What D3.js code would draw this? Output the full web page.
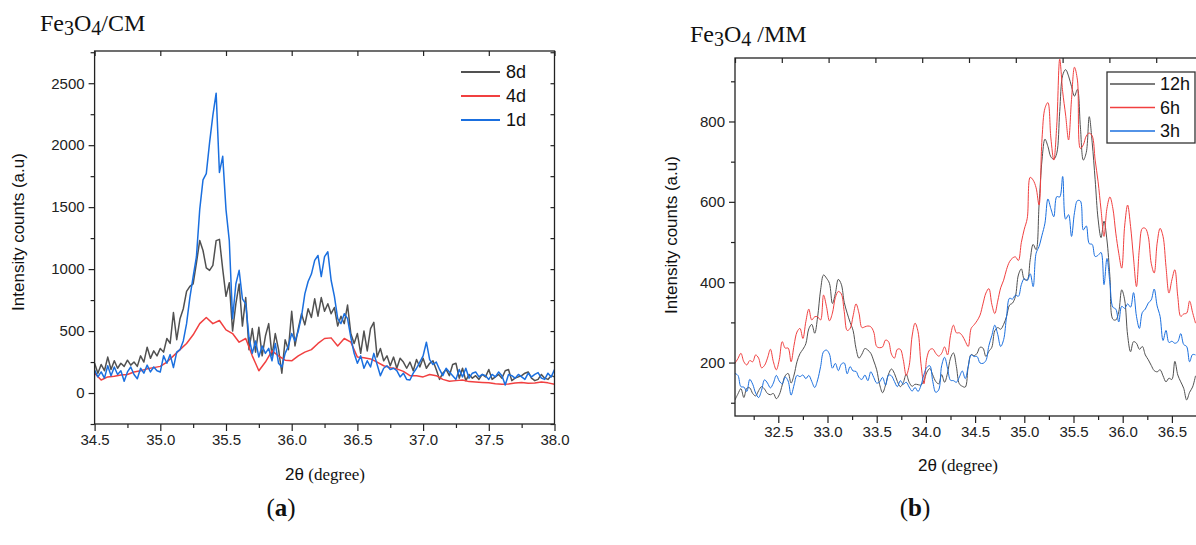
<!DOCTYPE html>
<html>
<head>
<meta charset="utf-8">
<script src="https://d3js.org/d3.v7.min.js"></script>
<style>
  body { margin: 0; background: #fff; }
</style>
</head>
<body>
<svg id="chart" width="1196" height="545"></svg>
<script>
// (a) Fe3O4/CM, one value every 0.025 deg from 34.5
var cmStart = 34.5, cmStep = 0.025;
var cm8d = [
  240,160,230,180,290,190,260,200,240,215,
  265,225,250,215,300,250,370,280,340,300,
  360,330,440,400,650,430,600,680,820,860,
  880,1050,1230,1150,1010,990,1030,1230,1240,1000,
  780,890,500,720,880,540,770,350,520,330,
  530,300,460,560,300,480,350,160,430,350,
  660,380,520,640,550,680,610,760,620,770,
  660,720,640,690,540,620,560,710,480,400,
  480,320,500,340,520,570,290,360,260,300,
  220,290,200,280,250,200,250,180,270,210,
  280,200,240,260,190,110,160,190,140,230,
  240,120,200,100,150,120,140,110,150,130,
  190,110,130,150,120,180,190,100,120,130,
  140,160,170,120,100,110,150,120,110,140,
  130];
var cm1d = [
  185,130,170,120,220,140,210,150,180,95,
  170,210,150,115,200,160,225,170,210,180,
  170,300,240,310,205,330,350,420,560,770,
  940,1100,1480,1720,1770,2020,2240,2420,1780,1910,
  1480,1230,600,880,990,760,720,450,320,420,
  290,380,320,360,260,400,240,210,320,380,
  480,420,500,620,800,900,960,1070,1110,940,
  1100,1140,910,780,600,560,640,600,450,320,
  240,300,200,260,210,320,230,140,200,220,
  190,200,180,130,160,110,105,160,200,250,
  300,410,270,230,250,190,140,200,170,140,
  110,190,130,200,120,160,170,130,150,140,
  110,150,130,170,140,65,150,140,120,150,
  130,110,160,130,150,165,120,110,160,130,
  190];
// 4d is much smoother, every 0.05 deg
var cm4dStep = 0.05;
var cm4d = [
  160,105,130,135,145,150,170,180,195,205,
  215,250,300,350,400,470,560,610,560,585,
  510,480,410,440,300,180,250,340,300,265,
  260,300,330,350,400,440,445,380,440,410,
  290,285,275,250,220,205,195,175,140,140,
  130,150,140,110,95,100,105,92,88,85,
  82,75,70,72,80,85,78,80,88,82,
  70];

// (b) Fe3O4/MM -- one value every 0.03 deg from 32.06
var mmStart = 32.06, mmStep = 0.03;
var mm12h = [
  107,122,135,113,136,137,123,117,130,140,
  134,123,120,123,110,120,144,167,173,149,
  169,202,222,233,247,284,295,273,314,381,
  418,410,397,347,372,407,395,350,323,300,
  280,235,211,221,235,231,223,204,182,145,
  125,144,171,184,173,153,140,150,171,151,
  141,146,145,144,155,176,185,169,153,147,
  170,151,174,211,224,190,147,141,139,190,
  220,217,223,238,236,215,228,238,279,287,
  283,295,315,343,348,365,418,433,407,406,
  456,494,481,592,704,756,738,712,706,721,
  825,915,929,913,887,863,880,786,704,723,
  812,747,655,557,511,552,505,414,308,306,
  326,381,356,268,227,252,248,233,240,219,
  207,193,180,177,182,167,152,161,158,203,
  169,152,136,107,126,139,167];
var mm6h = [
  198,210,223,202,194,205,202,219,211,187,
  193,211,233,202,182,207,252,236,236,202,
  243,276,285,260,302,333,306,314,314,306,
  368,339,304,323,362,377,371,327,280,285,
  316,346,323,287,289,291,289,276,240,237,
  239,256,252,221,211,233,233,207,168,192,
  266,298,277,197,147,212,232,234,223,216,
  223,239,219,267,293,274,274,267,253,240,
  285,294,304,318,346,373,384,345,322,353,
  386,405,432,451,460,463,454,499,532,559,
  661,654,635,592,757,833,847,759,704,791,
  955,874,816,754,855,935,903,733,742,764,
  771,764,704,650,580,514,584,612,584,522,
  472,435,540,592,539,460,389,485,534,534,
  514,447,423,497,534,514,439,373,406,431,
  364,315,321,323,353,325,298];
var mm3h = [
  173,168,140,139,128,158,146,124,113,131,
  157,149,137,149,168,154,147,164,154,119,
  144,168,165,169,160,168,153,138,157,190,
  227,231,221,186,198,180,196,199,172,190,
  179,178,163,158,169,155,177,163,149,152,
  163,144,169,167,153,140,155,146,151,139,
  129,138,128,143,170,188,192,153,126,132,
  192,213,186,156,155,151,164,179,160,190,
  219,215,215,199,198,205,242,267,293,270,
  240,257,315,360,358,368,365,394,409,404,
  421,389,472,489,517,547,607,583,563,613,
  612,663,557,568,514,573,603,602,530,540,
  496,494,464,467,474,394,459,398,338,333,
  301,340,335,346,338,374,315,285,325,333,
  348,356,383,341,315,255,280,250,253,248,
  252,272,245,240,202,220,219];

// tick labels
var cmTicksX = [34.5, 35.0, 35.5, 36.0, 36.5, 37.0, 37.5, 38.0];
var cmTicksY = [0, 500, 1000, 1500, 2000, 2500];
var mmTicksX = [32.5, 33.0, 33.5, 34.0, 34.5, 35.0, 35.5, 36.0, 36.5];
var mmTicksY = [200, 400, 600, 800];

var GREY = "#515151", RED = "#F14040", BLUE = "#1A6FDF";
var SANS = "'Liberation Sans', Arial, sans-serif";
var SERIF = "'Liberation Serif', 'Times New Roman', serif";

var svg = d3.select("#chart");

function toPoints(values, start, step) {
  return values.map((v, i) => ({ t: start + i * step, v: v }));
}

function styleAxis(g, fontSize) {
  g.select(".domain").remove();
  g.selectAll(".tick line").attr("stroke", "#222").attr("stroke-width", 1.2);
  g.selectAll("text").attr("font-family", SANS).attr("font-size", fontSize).attr("fill", "#222");
}

function drawPanel(cfg) {
  var g = svg.append("g");
  var x = d3.scaleLinear().domain(cfg.xDomain).range([cfg.left, cfg.right]);
  var y = d3.scaleLinear().domain(cfg.yDomain).range([cfg.bottom, cfg.top]);

  g.append("clipPath").attr("id", cfg.id + "clip")
    .append("rect")
    .attr("x", cfg.left).attr("y", cfg.top)
    .attr("width", cfg.right - cfg.left).attr("height", cfg.bottom - cfg.top);

  var line = d3.line().x(d => x(d.t)).y(d => y(d.v)).curve(cfg.curve);

  g.append("g").attr("clip-path", "url(#" + cfg.id + "clip)")
    .selectAll("path")
    .data(cfg.series)
    .join("path")
    .attr("fill", "none")
    .attr("stroke", d => d.color)
    .attr("stroke-width", cfg.lineWidth)
    .attr("stroke-linejoin", "round")
    .attr("d", d => line(toPoints(d.values, d.start, d.step)));

  // frame
  g.append("rect")
    .attr("x", cfg.left).attr("y", cfg.top)
    .attr("width", cfg.right - cfg.left).attr("height", cfg.bottom - cfg.top)
    .attr("fill", "none").attr("stroke", "#222").attr("stroke-width", 1.3);

  // bottom axis, major + minor
  g.append("g").attr("transform", "translate(0," + cfg.bottom + ")")
    .call(d3.axisBottom(x).tickValues(cfg.xTicks).tickSize(7).tickPadding(3).tickFormat(d3.format(".1f")))
    .call(a => styleAxis(a, 15));
  g.append("g").attr("transform", "translate(0," + cfg.bottom + ")")
    .call(d3.axisBottom(x).tickValues(cfg.xMinor).tickSize(4).tickFormat(""))
    .call(a => styleAxis(a, 15));

  // left axis, major + minor
  g.append("g").attr("transform", "translate(" + cfg.left + ",0)")
    .call(d3.axisLeft(y).tickValues(cfg.yTicks).tickSize(6).tickPadding(4).tickFormat(d3.format("d")))
    .call(a => styleAxis(a, 15));
  g.append("g").attr("transform", "translate(" + cfg.left + ",0)")
    .call(d3.axisLeft(y).tickValues(cfg.yMinor).tickSize(4).tickFormat(""))
    .call(a => styleAxis(a, 15));

  // inner ticks on top and right
  g.append("g").attr("transform", "translate(0," + cfg.top + ")")
    .call(d3.axisTop(cfg.topScale || x).tickValues(cfg.topTicks).tickSize(-5).tickFormat(""))
    .call(a => styleAxis(a, 15));
  if (cfg.rightTicks) {
    g.append("g").attr("transform", "translate(" + cfg.right + ",0)")
      .call(d3.axisRight(y).tickValues(cfg.rightTicks).tickSize(-4).tickFormat(""))
      .call(a => styleAxis(a, 15));
  }

  // axis titles
  g.append("text")
    .attr("transform", "translate(" + cfg.yTitleX + "," + cfg.yTitleY + ") rotate(-90)")
    .attr("text-anchor", "middle")
    .attr("font-family", SANS).attr("font-size", 17).attr("fill", "#111")
    .text("Intensity counts (a.u)");

  var xt = g.append("text")
    .attr("x", cfg.xTitleX).attr("y", cfg.xTitleY)
    .attr("text-anchor", "middle").attr("font-size", 17).attr("fill", "#111");
  xt.append("tspan").attr("font-family", SANS).text("2θ");
  xt.append("tspan").attr("font-family", SERIF).text(" (degree)");

  // panel title with subscripts
  var tt = g.append("text")
    .attr("x", cfg.titleX).attr("y", cfg.titleY)
    .attr("font-family", SERIF).attr("font-size", 24).attr("fill", "#111");
  tt.append("tspan").text("Fe");
  tt.append("tspan").attr("dy", 4).attr("font-size", 20).text("3");
  tt.append("tspan").attr("dy", -4).text("O");
  tt.append("tspan").attr("dy", 4).attr("font-size", 20).text("4");
  tt.append("tspan").attr("dy", -4).text(cfg.titleRest);

  // (a) / (b)
  var lt = g.append("text")
    .attr("x", cfg.letterX).attr("y", 516)
    .attr("text-anchor", "middle")
    .attr("font-family", SERIF).attr("font-size", 25).attr("fill", "#111");
  lt.append("tspan").text("(");
  lt.append("tspan").attr("font-weight", "bold").text(cfg.letter);
  lt.append("tspan").text(")");

  // legend
  var lg = g.append("g");
  if (cfg.legend.box) {
    lg.append("rect")
      .attr("x", cfg.legend.box[0]).attr("y", cfg.legend.box[1])
      .attr("width", cfg.legend.box[2]).attr("height", cfg.legend.box[3])
      .attr("fill", "#fff").attr("stroke", "#333").attr("stroke-width", 1.3);
  }
  cfg.series.forEach((s, i) => {
    var yy = cfg.legend.y0 + i * cfg.legend.dy;
    lg.append("line")
      .attr("x1", cfg.legend.x1).attr("x2", cfg.legend.x2)
      .attr("y1", yy).attr("y2", yy)
      .attr("stroke", s.color).attr("stroke-width", cfg.legend.lw);
    lg.append("text")
      .attr("x", cfg.legend.tx).attr("y", yy + 6)
      .attr("font-family", SANS).attr("font-size", 18).attr("fill", "#111")
      .text(s.name);
  });
}

// panel (a)
drawPanel({
  id: "a",
  left: 94.6, right: 554.5, top: 51, bottom: 424,
  xDomain: [34.5, 38.0], yDomain: [-250, 2760],
  xTicks: cmTicksX, xMinor: d3.range(34.75, 38, 0.5),
  yTicks: cmTicksY, yMinor: d3.range(-250, 2760, 500),
  topTicks: cmTicksX, rightTicks: d3.range(-250, 2760, 250),
  curve: d3.curveLinear, lineWidth: 1.5,
  series: [
    { name: "8d", values: cm8d, start: cmStart, step: cmStep, color: GREY },
    { name: "4d", values: cm4d, start: cmStart, step: cm4dStep, color: RED },
    { name: "1d", values: cm1d, start: cmStart, step: cmStep, color: BLUE }
  ],
  yTitleX: 24, yTitleY: 232,
  xTitleX: 325, xTitleY: 480,
  titleX: 40, titleY: 31, titleRest: "/CM",
  letter: "a", letterX: 281,
  legend: { x1: 461, x2: 500, tx: 506, y0: 72, dy: 24, lw: 2 }
});

// panel (b): right edge runs off the picture
var bLeft = 735, bRight = 1197;
drawPanel({
  id: "b",
  left: bLeft, right: bRight, top: 58, bottom: 416,
  xDomain: [32.06, 32.06 + (bRight - bLeft) / 98.4], yDomain: [67, 958],
  xTicks: mmTicksX, xMinor: d3.range(32.25, 36.8, 0.5),
  yTicks: mmTicksY, yMinor: [100, 300, 500, 700, 900],
  topScale: d3.scaleLinear().domain([0, (bRight - bLeft) / 93.6]).range([bLeft, bRight]),
  topTicks: d3.range(0, 4.9, 0.5),
  curve: d3.curveCatmullRom, lineWidth: 1,
  series: [
    { name: "12h", values: mm12h, start: mmStart, step: mmStep, color: GREY },
    { name: "6h", values: mm6h, start: mmStart, step: mmStep, color: RED },
    { name: "3h", values: mm3h, start: mmStart, step: mmStep, color: BLUE }
  ],
  yTitleX: 677, yTitleY: 235,
  xTitleX: 958, xTitleY: 471,
  titleX: 690, titleY: 42, titleRest: " /MM",
  letter: "b", letterX: 915,
  legend: { box: [1107, 72, 88, 71], x1: 1110, x2: 1155, tx: 1160, y0: 84, dy: 23.5, lw: 1.3 }
});
</script>
</body>
</html>
